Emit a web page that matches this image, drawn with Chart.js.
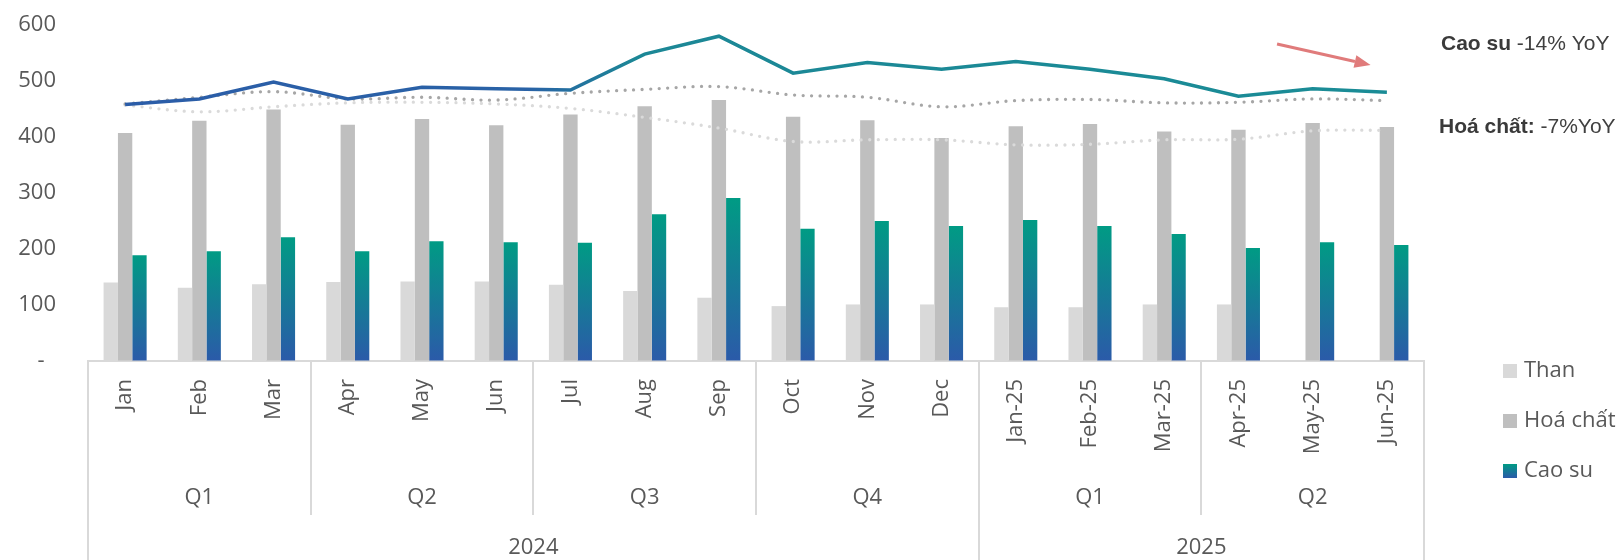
<!DOCTYPE html>
<html>
<head>
<meta charset="utf-8">
<script src="https://cdn.jsdelivr.net/npm/chart.js@4.4.1/dist/chart.umd.min.js"></script>
<style>
  html, body { margin: 0; padding: 0; background: #fff; }
  #chart { display: block; }
</style>
</head>
<body>
<canvas id="chart" width="1623" height="560"></canvas>
<script>
// Categories and grouping rows
const months = ['Jan', 'Feb', 'Mar', 'Apr', 'May', 'Jun', 'Jul', 'Aug', 'Sep', 'Oct', 'Nov', 'Dec',
                'Jan-25', 'Feb-25', 'Mar-25', 'Apr-25', 'May-25', 'Jun-25'];
const quarterLabels = ['Q1', 'Q2', 'Q3', 'Q4', 'Q1', 'Q2'];
const quarterSpans = [3, 3, 3, 3, 3, 3];
const yearLabels = ['2024', '2025'];
const yearSpans = [12, 6];
const yTicks = [0, 100, 200, 300, 400, 500, 600];

// Bar series
const than = [140, 131, 137, 141, 142, 142, 136, 125, 113, 98, 101, 101, 96, 96, 101, 101, null, null];
const hoaChat = [407, 429, 449, 422, 432, 421, 440, 455, 466, 436, 430, 398, 419, 423, 410, 413, 425, 418];
const caoSu = [189, 196, 221, 196, 214, 212, 211, 262, 291, 236, 250, 241, 252, 241, 227, 202, 212, 207];

// Line series
const lineSolid = [458, 468, 498, 468, 489, 486, 484, 548, 580, 514, 533, 521, 535, 521, 504, 473, 486, 480];
const lineDotDark = [459, 471, 481, 468, 471, 466, 478, 485, 490, 475, 471, 454, 465, 467, 461, 462, 468, 465];
const lineDotLight = [457, 445, 454, 461, 462, 459, 451, 435, 416, 392, 395, 395, 386, 387, 395, 396, 411, 412];

const FONT = '"Open Sans", sans-serif';
const NOTE_FONT = '"Liberation Sans", Arial, sans-serif';
const TEXT_COLOR = '#595959';
const GRID_COLOR = '#d9d9d9';

Chart.defaults.font.family = FONT;
Chart.defaults.color = TEXT_COLOR;

// Cao su bars: teal at the top of each bar fading to blue at the base
function caoSuFill(context) {
    const chart = context.chart;
    if (!chart.chartArea || context.type !== 'data' || context.raw == null) return '#129088';
    const y = chart.scales.y;
    const g = chart.ctx.createLinearGradient(0, y.getPixelForValue(context.raw), 0, y.getPixelForValue(0));
    g.addColorStop(0, '#009b84');
    g.addColorStop(1, '#2b5aa9');
    return g;
}

// Solid line: blue on the left turning teal from Q3 onward
function solidStroke(context) {
    const area = context.chart.chartArea;
    if (!area) return '#2a5ea6';
    const g = context.chart.ctx.createLinearGradient(area.left, 0, area.right, 0);
    g.addColorStop(0, '#2b5ca8');
    g.addColorStop(0.33, '#2962a6');
    g.addColorStop(0.41, '#1c8796');
    g.addColorStop(1, '#1a8c96');
    return g;
}

// Quarter / year rows under the month labels, the side legend and the notes
const extrasPlugin = {
    id: 'extras',
    afterDraw(chart) {
        const { ctx, chartArea: area, scales: { x, y } } = chart;
        const n = months.length;
        const edge = i => i <= 0 ? area.left : i >= n ? area.right
            : (x.getPixelForValue(i - 1) + x.getPixelForValue(i)) / 2;
        const vline = (px, y0, y1) => {
            ctx.beginPath();
            ctx.moveTo(Math.round(px), y0);
            ctx.lineTo(Math.round(px), y1);
            ctx.stroke();
        };

        ctx.save();
        ctx.strokeStyle = GRID_COLOR;
        ctx.lineWidth = 2;
        ctx.fillStyle = TEXT_COLOR;
        ctx.textAlign = 'center';
        ctx.textBaseline = 'middle';
        ctx.font = `22px ${FONT}`;

        let start = 0;
        quarterLabels.forEach((q, k) => {
            const end = start + quarterSpans[k];
            ctx.fillText(q, (edge(start) + edge(end)) / 2, area.bottom + 137);
            if (end < n) vline(edge(end), area.bottom, area.bottom + 154);
            start = end;
        });

        start = 0;
        vline(area.left, area.bottom, chart.height);
        yearLabels.forEach((yr, k) => {
            const end = start + yearSpans[k];
            ctx.fillText(yr, (edge(start) + edge(end)) / 2, area.bottom + 187);
            vline(edge(end), area.bottom, chart.height);
            start = end;
        });

        // legend (bar series only)
        ctx.textAlign = 'left';
        const bx = area.right + 79;
        [0, 1, 2].forEach((di, k) => {
            const ds = chart.data.datasets[di];
            const cy = area.bottom + 10 + k * 50;
            if (di === 2) {
                const g = ctx.createLinearGradient(0, cy - 7, 0, cy + 7);
                g.addColorStop(0, '#009b84');
                g.addColorStop(1, '#2b5aa9');
                ctx.fillStyle = g;
            } else {
                ctx.fillStyle = ds.backgroundColor;
            }
            ctx.fillRect(bx, cy - 7, 14, 14);
            ctx.fillStyle = TEXT_COLOR;
            ctx.fillText(ds.label, bx + 21, cy);
        });

        // YoY notes
        const note = (bold, rest, px, py) => {
            ctx.font = `bold 21px ${NOTE_FONT}`;
            ctx.fillStyle = '#3a3a3a';
            ctx.fillText(bold, px, py);
            const w = ctx.measureText(bold).width;
            ctx.font = `21px ${NOTE_FONT}`;
            ctx.fillStyle = '#404040';
            ctx.fillText(rest, px + w, py);
        };
        note('Cao su', ' -14% YoY', area.right + 17, y.getPixelForValue(566));
        note('Hoá chất:', ' -7%YoY', area.right + 15, y.getPixelForValue(418));

        // downward arrow next to the Cao su note
        const x0 = x.getPixelForValue(15.52), y0 = y.getPixelForValue(566);
        const x1 = x.getPixelForValue(16.78), y1 = y.getPixelForValue(528.6);
        const ang = Math.atan2(y1 - y0, x1 - x0);
        const head = 16, half = 6.5;
        ctx.strokeStyle = '#e07b7b';
        ctx.fillStyle = '#e07b7b';
        ctx.lineWidth = 3;
        ctx.beginPath();
        ctx.moveTo(x0, y0);
        ctx.lineTo(x1 - head * Math.cos(ang), y1 - head * Math.sin(ang));
        ctx.stroke();
        ctx.beginPath();
        ctx.moveTo(x1, y1);
        ctx.lineTo(x1 - head * Math.cos(ang) + half * Math.sin(ang), y1 - head * Math.sin(ang) - half * Math.cos(ang));
        ctx.lineTo(x1 - head * Math.cos(ang) - half * Math.sin(ang), y1 - head * Math.sin(ang) + half * Math.cos(ang));
        ctx.closePath();
        ctx.fill();
        ctx.restore();
    }
};

const dotted = {
    type: 'line',
    borderWidth: 3.3,
    borderDash: [0, 8.5],
    borderCapStyle: 'round',
    pointRadius: 0,
    tension: 0.35,
    fill: false,
    order: 0
};

new Chart(document.getElementById('chart'), {
    type: 'bar',
    data: {
        labels: months,
        datasets: [
            { label: 'Than', data: than, backgroundColor: '#d9d9d9', order: 1 },
            { label: 'Hoá chất', data: hoaChat, backgroundColor: '#bfbfbf', order: 1 },
            { label: 'Cao su', data: caoSu, backgroundColor: caoSuFill, order: 1 },
            {
                type: 'line', label: 'Cao su (đường)', data: lineSolid,
                borderColor: solidStroke, borderWidth: 3.5, pointRadius: 0,
                tension: 0, fill: false, order: 0
            },
            { ...dotted, label: 'Đường 2', data: lineDotDark, borderColor: '#a6a6a6' },
            { ...dotted, label: 'Đường 3', data: lineDotLight, borderColor: '#dadada' }
        ]
    },
    options: {
        responsive: false,
        animation: false,
        devicePixelRatio: 1,
        layout: { padding: { top: 25, right: 199, left: 0, bottom: 0 } },
        datasets: {
            bar: { categoryPercentage: 0.58, barPercentage: 1.0 }
        },
        scales: {
            x: {
                grid: { display: false, drawTicks: false },
                border: { display: true, color: GRID_COLOR, width: 2 },
                ticks: {
                    autoSkip: false, minRotation: 90, maxRotation: 90,
                    padding: 18, color: TEXT_COLOR, font: { size: 22 }
                },
                afterFit(scale) { scale.height = 199; }
            },
            y: {
                min: 0, max: 600,
                // invisible tick marks keep the labels clear of the bars
                grid: {
                    display: true, drawOnChartArea: false, drawTicks: true,
                    tickLength: 30, tickColor: 'rgba(0,0,0,0)'
                },
                border: { display: false },
                afterBuildTicks(scale) { scale.ticks = yTicks.map(v => ({ value: v })); },
                ticks: {
                    padding: 2, color: TEXT_COLOR, font: { size: 22 },
                    callback: v => v === 0 ? '-  ' : v
                },
                afterFit(scale) { scale.width = 88; }
            }
        },
        plugins: {
            legend: { display: false },
            tooltip: { enabled: false }
        }
    },
    plugins: [extrasPlugin]
});
</script>
</body>
</html>
